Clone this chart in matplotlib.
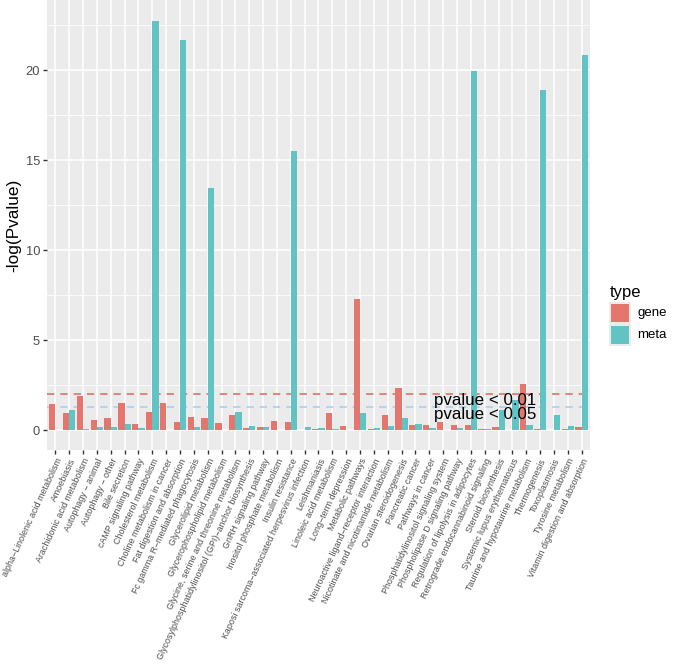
import numpy as np
import matplotlib
matplotlib.use("Agg")
import matplotlib.pyplot as plt
from matplotlib.patches import Rectangle

plt.rcParams["font.family"] = ["Liberation Sans", "DejaVu Sans"]

pathways = [
    "alpha\u2212Linolenic acid metabolism", "Amoebiasis", "Arachidonic acid metabolism",
    "Autophagy \u2212 animal", "Autophagy \u2212 other", "Bile secretion",
    "cAMP signaling pathway", "Cholesterol metabolism", "Choline metabolism in cancer",
    "Fat digestion and absorption", "Fc gamma R\u2212mediated phagocytosis",
    "Glycerolipid metabolism", "Glycerophospholipid metabolism",
    "Glycine, serine and threonine metabolism",
    "Glycosylphosphatidylinositol (GPI)\u2212anchor biosynthesis",
    "GnRH signaling pathway", "Inositol phosphate metabolism", "Insulin resistance",
    "Kaposi sarcoma\u2212associated herpesvirus infection", "Leishmaniasis",
    "Linoleic acid metabolism", "Long\u2212term depression", "Metabolic pathways",
    "Neuroactive ligand\u2212receptor interaction", "Nicotinate and nicotinamide metabolism",
    "Ovarian steroidogenesis", "Pancreatic cancer", "Pathways in cancer",
    "Phosphatidylinositol signaling system", "Phospholipase D signaling pathway",
    "Regulation of lipolysis in adipocytes", "Retrograde endocannabinoid signaling",
    "Steroid biosynthesis", "Systemic lupus erythematosus",
    "Taurine and hypotaurine metabolism", "Thermogenesis", "Toxoplasmosis",
    "Tyrosine metabolism", "Vitamin digestion and absorption",
]

gene = [1.44, 0.96, 1.87, 0.54, 0.67, 1.48, 0.33, 0.98, 1.52, 0.43,
        0.70, 0.67, 0.41, 0.83, 0.13, 0.17, 0.52, 0.46, 0.01, 0.03,
        0.94, 0.22, 7.30, 0.07, 0.81, 2.33, 0.28, 0.26, 0.43, 0.28,
        0.26, 0.03, 0.19, 0.02, 2.58, 0.03, 0.01, 0.07, 0.15]

meta = [0.02, 1.11, 0.05, 0.19, 0.19, 0.31, 0.11, 22.70, 0.02, 21.65,
        0.17, 13.45, 0.02, 1.02, 0.20, 0.17, 0.01, 15.50, 0.17, 0.13,
        0.05, 0.01, 0.96, 0.10, 0.20, 0.65, 0.35, 0.11, 0.02, 0.09,
        19.95, 0.03, 1.10, 1.67, 0.28, 18.90, 0.83, 0.20, 20.85]

cutoffs = [2.0, 1.30103]
cutoff_labels = ["pvalue < 0.01", "pvalue < 0.05"]

gene_col = "#E4766E"
meta_col = "#62C3C5"

W, H = 682, 666
fig = plt.figure(figsize=(W / 100, H / 100), dpi=100)
ax = fig.add_axes([47 / W, 1 - 450 / H, 543 / W, 450 / H])
ax.set_facecolor("#EBEBEB")

x = np.arange(len(pathways))
ax.set_xlim(-0.6, len(pathways) - 0.4)
ax.set_ylim(-1.11, 23.89)

# grid
for yv in [2.5, 7.5, 12.5, 17.5, 22.5]:
    ax.axhline(yv, color="white", lw=0.55, zorder=0.5)
for yv in [0, 5, 10, 15, 20]:
    ax.axhline(yv, color="white", lw=1.1, zorder=0.6)
for xv in x:
    ax.axvline(xv, color="white", lw=1.1, zorder=0.6)

# cutoff lines
ax.axhline(cutoffs[0], color="#DF6660", lw=1.1, dashes=(4.8, 3.9), zorder=1)
ax.axhline(cutoffs[1], color="#9FCDF6", lw=1.1, dashes=(4.8, 3.9), zorder=1)

ax.bar(x - 0.225, gene, width=0.45, color=gene_col, zorder=2)
ax.bar(x + 0.225, meta, width=0.45, color=meta_col, zorder=2)

ax.text(31, 1.66, cutoff_labels[0], ha="center", va="center", fontsize=12.2, zorder=3)
ax.text(31, 0.88, cutoff_labels[1], ha="center", va="center", fontsize=12.2, zorder=3)

for s in ax.spines.values():
    s.set_visible(False)

ax.set_xticks(x)
ax.set_xticklabels(pathways, rotation=65, ha="right", va="top",
                   rotation_mode="anchor", fontsize=6.4, color="#4D4D4D")
ax.set_yticks([0, 5, 10, 15, 20])
ax.set_yticklabels(["0", "5", "10", "15", "20"], fontsize=9.3, color="#4D4D4D")
ax.tick_params(axis="both", length=2.8, width=1.0, color="#333333", pad=2.2)
ax.set_ylabel("-log(Pvalue)", fontsize=12.4, labelpad=3)

# legend
fig.text(610 / W, 1 - 293 / H, "type", fontsize=12, va="center", ha="left")
for i, (lab, col) in enumerate([("gene", gene_col), ("meta", meta_col)]):
    top = 302 + 22 * i
    fig.add_artist(Rectangle((609 / W, 1 - (top + 22) / H), 22 / W, 22 / H,
                             transform=fig.transFigure, color="#EBEBEB", lw=0))
    fig.add_artist(Rectangle((611 / W, 1 - (top + 20) / H), 18 / W, 18 / H,
                             transform=fig.transFigure, color=col, lw=0))
    fig.text(637 / W, 1 - (top + 11) / H, lab, fontsize=9.5, va="center", ha="left")

fig.savefig("out.png", dpi=100)
